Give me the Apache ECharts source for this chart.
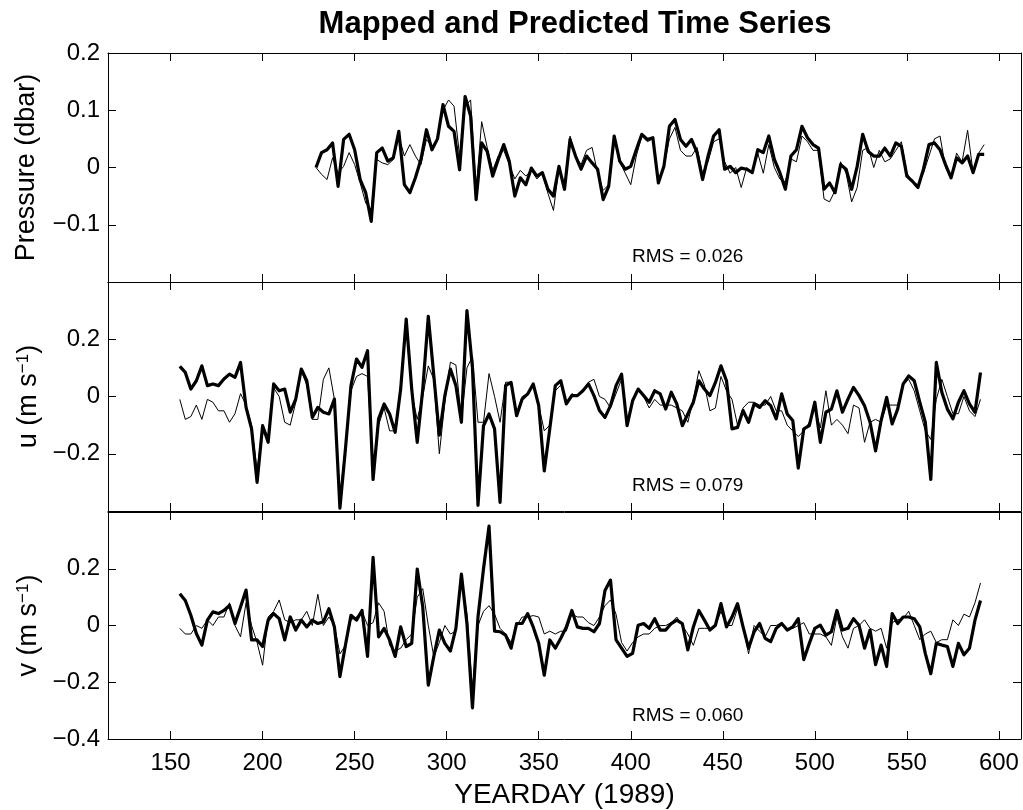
<!DOCTYPE html>
<html>
<head>
<meta charset="utf-8"/>
<title>Mapped and Predicted Time Series</title>
<script src="https://cdn.jsdelivr.net/npm/echarts@6/dist/echarts.min.js"></script>
<style>
    html, body { margin: 0; padding: 0; background: #fff; }
    #main { width: 1023px; height: 810px; }
</style>
</head>
<body>
<div id="main"></div>
<script>
    // sampling grid, every 3 days
    function dayGrid(start, end, step) {
        let d = [];
        for (let t = start; t <= end; t += step) d.push(t);
        return d;
    }
    let daysP = dayGrid(229, 592, 3);
    let daysUV = dayGrid(155, 590, 3);

    let xTicks = [150, 200, 250, 300, 350, 400, 450, 500, 550, 600];
    let rmsText = ['0.026', '0.079', '0.060'];

    // pressure (dbar): thick = mapped, thin = predicted
    let pMapped = [
        0.0, 0.026, 0.031, 0.043, -0.033, 0.049, 0.058, 0.031, -0.021, -0.044,
        -0.094, 0.026, 0.034, 0.011, 0.017, 0.063, -0.03, -0.044, -0.018, 0.014,
        0.066, 0.031, 0.05, 0.11, 0.072, 0.063, -0.004, 0.124, 0.09, -0.056,
        0.043, 0.028, -0.015, 0.014, 0.04, 0.011, -0.05, -0.018, -0.03, -0.001,
        -0.015, -0.009, -0.038, -0.05, 0.002, -0.038, 0.049, 0.02, -0.003, 0.02,
        0.008, -0.003, -0.056, -0.033, 0.055, 0.011, -0.003, 0.002, 0.031, 0.058,
        0.049, 0.052, -0.027, 0.002, 0.072, 0.084, 0.049, 0.037, 0.049, 0.026,
        -0.021, 0.02, 0.055, 0.066, -0.003, 0.002, -0.009, -0.001, -0.003, -0.009,
        0.031, 0.026, 0.055, 0.014, -0.009, -0.038, 0.02, 0.031, 0.072, 0.052,
        0.04, 0.034, -0.038, -0.027, -0.044, 0.005, -0.003, -0.038, 0.002, 0.058,
        0.028, 0.02, 0.02, 0.034, 0.02, 0.043, 0.037, -0.015, -0.024, -0.035,
        -0.003, 0.04, 0.043, 0.031, 0.005, -0.018, 0.017, 0.008, 0.02, -0.009,
        0.023, 0.023
    ];
    let pPredicted = [
        0.0, -0.012, -0.021, 0.017, -0.01, 0.002, 0.026, 0.005, -0.027, -0.062,
        -0.073, 0.014, 0.008, 0.005, 0.014, 0.055, 0.02, 0.04, 0.02, 0.005,
        0.049, 0.037, 0.049, 0.1, 0.118, 0.107, 0.02, 0.107, 0.118, -0.04,
        0.08, 0.035, -0.005, 0.02, 0.03, 0.005, -0.02, -0.005, -0.015, -0.005,
        -0.02, -0.01, -0.045, -0.075, 0.0, -0.03, 0.055, 0.02, 0.005, 0.03,
        0.035, -0.01, -0.04, -0.03, 0.05, 0.01, -0.01, -0.03, 0.02, 0.055,
        0.045, 0.05, -0.02, 0.0, 0.05, 0.07, 0.03, 0.02, 0.02, 0.035,
        -0.01, 0.01, 0.045, 0.05, 0.01, -0.01, 0.0, -0.035, 0.0, -0.01,
        0.025, -0.01, 0.04, 0.0, -0.02, -0.025, 0.015, 0.01, 0.055, 0.045,
        0.03, 0.03, -0.055, -0.06, -0.04, 0.01, -0.01, -0.06, -0.035, 0.03,
        0.035, 0.0, 0.03, 0.01, 0.015, 0.03, 0.045, -0.01, -0.025, -0.03,
        -0.01, 0.02, 0.05, 0.055, 0.0, -0.02, 0.025, 0.01, 0.065, -0.01,
        0.025, 0.04
    ];

    // u (m/s)
    let uMapped = [
        0.105, 0.084, 0.026, 0.055, 0.107, 0.038, 0.044, 0.038, 0.061, 0.078,
        0.067, 0.119, -0.038, -0.113, -0.30, -0.102, -0.16, 0.044, 0.02, 0.026,
        -0.055, -0.009, 0.096, 0.055, -0.073, -0.038, -0.055, -0.061, -0.009, -0.39,
        -0.183, 0.038, 0.131, 0.102, 0.16, -0.29, -0.078, -0.026, -0.061, -0.125,
        0.026, 0.27, 0.026, -0.16, 0.026, 0.28, 0.073, -0.135, 0.003, 0.096,
        0.038, -0.09, 0.30, 0.10, -0.38, -0.102, -0.061, -0.113, -0.37, 0.038,
        0.049, -0.067, -0.009, 0.009, 0.044, -0.032, -0.26, -0.113, 0.038, 0.055,
        -0.026, 0.003, 0.003, 0.02, 0.044, 0.003, -0.049, -0.073, -0.032, 0.038,
        0.078, -0.102, -0.015, 0.026, 0.003, -0.02, 0.02, 0.009, -0.044, 0.015,
        -0.026, -0.102, -0.061, -0.02, 0.055, 0.026, 0.003, 0.049, 0.107, 0.055,
        -0.113, -0.108, -0.049, -0.09, -0.026, -0.038, -0.015, -0.032, -0.078, 0.009,
        -0.061, -0.084, -0.25, -0.113, -0.102, -0.02, -0.16, -0.055, -0.044, 0.02,
        -0.055, -0.009, 0.032, 0.003, -0.032, -0.09, -0.19, -0.084, -0.003, -0.096,
        -0.044, 0.044, 0.072, 0.055, -0.02, -0.09, -0.29, 0.119, 0.015, -0.044,
        -0.078, -0.02, 0.02, -0.026, -0.055, 0.084
    ];
    let uPredicted = [
        -0.01, -0.08, -0.07, -0.03, -0.08, -0.01, -0.02, -0.05, -0.05, -0.09,
        -0.06, 0.01, -0.03, -0.1, -0.26, -0.1, -0.14, 0.03, 0.0, -0.09,
        -0.1, -0.02, 0.09, 0.04, -0.08, -0.08, 0.06, 0.1, -0.01, -0.35,
        -0.17, 0.02, 0.07, 0.08, 0.07, -0.26, -0.1, -0.04, -0.12, -0.12,
        0.02, 0.25, 0.01, -0.08, 0.0, 0.107, 0.06, -0.2, -0.02, 0.12,
        0.11, -0.08, 0.1, 0.14, -0.09, -0.09, 0.08, 0.0, -0.09, 0.05,
        0.05, -0.06, 0.0, 0.01, 0.04, -0.03, -0.12, -0.1, 0.02, 0.04,
        -0.02, 0.01, 0.0, 0.02, 0.05, 0.06, 0.0, -0.01, -0.04, 0.01,
        0.06, -0.09, -0.01, 0.02, 0.0, -0.04, -0.01, -0.03, -0.03, -0.03,
        -0.04, -0.05, -0.09, -0.01, 0.09, 0.04, -0.05, -0.04, 0.07, 0.02,
        -0.01, -0.1, -0.04, -0.02, -0.02, -0.03, -0.03, 0.0, -0.05, -0.05,
        -0.1, -0.12, -0.14, -0.12, -0.09, -0.04, -0.11, 0.02, -0.1, -0.08,
        -0.1, -0.13, -0.03, -0.04, -0.16, -0.09, -0.08, -0.09, -0.03, -0.03,
        -0.03, 0.04, 0.06, 0.02, -0.05, -0.12, -0.15, -0.01, 0.06, 0.0,
        -0.06, -0.06, 0.0, -0.05, -0.07, -0.01
    ];

    // v (m/s)
    let vMapped = [
        0.112, 0.088, 0.036, -0.028, -0.069, 0.019, 0.048, 0.042, 0.053, 0.071,
        0.007, 0.065, 0.125, -0.051, -0.051, -0.074, 0.019, 0.042, 0.024, -0.051,
        0.03, -0.016, 0.019, -0.005, 0.019, 0.007, 0.013, 0.059, -0.005, -0.18,
        -0.069, 0.036, 0.019, 0.053, -0.109, 0.24, -0.04, -0.01, -0.051, -0.109,
        -0.005, -0.074, -0.063, 0.199, 0.065, -0.21, -0.109, -0.016, -0.063, -0.09,
        -0.01, 0.181, 0.007, -0.29, 0.03, 0.2, 0.35, -0.02, -0.022, -0.034,
        -0.08, 0.007, 0.007, 0.042, -0.005, -0.063, -0.175, -0.051, -0.08, -0.045,
        -0.005, 0.053, -0.005, -0.01, -0.01, -0.022, 0.007, 0.123, 0.16, -0.051,
        -0.08, -0.109, -0.098, 0.001, 0.007, -0.01, 0.024, -0.016, -0.016, 0.007,
        0.019, 0.007, -0.086, -0.005, 0.053, 0.019, -0.016, 0.001, 0.077, -0.005,
        0.03, 0.077, -0.005, -0.08, -0.022, 0.007, -0.045, -0.057, -0.01, 0.007,
        -0.016, -0.005, 0.024, -0.12, -0.063, -0.01, 0.001, -0.034, -0.022, 0.053,
        -0.016, -0.01, 0.024, 0.001, -0.08, -0.016, -0.138, -0.069, -0.144, 0.042,
        0.007, 0.03, 0.03, 0.024, -0.005, -0.098, -0.17, -0.063, -0.069, -0.074,
        -0.144, -0.063, -0.103, -0.08, 0.019, 0.088
    ];
    let vPredicted = [
        -0.01, -0.03, -0.03, 0.0, -0.01, 0.02, 0.0, 0.03, 0.03, 0.08,
        0.0, -0.04, 0.08, 0.0, -0.06, -0.14, 0.03, 0.05, 0.09, 0.02,
        0.01, 0.02, 0.02, 0.05, 0.0, 0.11, 0.0, 0.03, 0.0, -0.1,
        -0.07, 0.02, 0.03, 0.05, 0.0, 0.01, 0.08, 0.05, -0.07, -0.09,
        -0.08, -0.05, -0.03, 0.1, 0.13, 0.0, -0.11, -0.06, 0.0, -0.03,
        -0.02, 0.17, 0.04, -0.23, 0.0, 0.05, 0.07, 0.04, -0.01, -0.03,
        -0.06, 0.0, 0.03, 0.03, 0.035, 0.03, -0.03, -0.02, -0.03, -0.02,
        -0.02, 0.04, 0.03, 0.03, 0.01, 0.0, 0.03, 0.07, 0.09, 0.04,
        -0.06, -0.09, -0.06, -0.04, -0.03, -0.03, -0.01, 0.0, 0.0, 0.01,
        0.03, 0.0, -0.03, -0.07, -0.01, -0.01, -0.01, 0.0, 0.05, 0.0,
        0.0, 0.06, 0.0, -0.1, 0.0, -0.02, -0.04, 0.0, 0.0, 0.01,
        -0.01, -0.01, 0.0, 0.01, -0.03, -0.03, -0.03, -0.04, -0.07, 0.03,
        -0.04, -0.08, -0.01, 0.0, 0.02, -0.01, -0.02, -0.01, -0.08, 0.01,
        0.02, 0.025, 0.05, 0.0, -0.05, -0.03, -0.02, -0.06, -0.05, -0.05,
        0.02, 0.0, 0.04, 0.03, 0.08, 0.15
    ];

    function pairs(days, vals) {
        return days.map(function (d, i) { return [d, vals[i]]; });
    }

    let font = 'Liberation Sans, Arial, Helvetica, sans-serif';
    let panels = [
        {days: daysP, mapped: pMapped, predicted: pPredicted, min: -0.2, max: 0.2, step: 0.1,
            name: 'Pressure (dbar)', showMin: false, showMax: true, gap: 68},
        {days: daysUV, mapped: uMapped, predicted: uPredicted, min: -0.4, max: 0.4, step: 0.2,
            name: 'u (m s{sup|\u22121})', showMin: false, showMax: false, gap: 60},
        {days: daysUV, mapped: vMapped, predicted: vPredicted, min: -0.4, max: 0.4, step: 0.2,
            name: 'v (m s{sup|\u22121})', showMin: true, showMax: false, gap: 60}
    ];

    let gridTop = [53, 282, 512];
    let gridH = 229;

    let grid = [], xAxis = [], yAxis = [], series = [], graphic = [];
    let tickStyle = {show: true, inside: true, length: 8, lineStyle: {color: '#000', width: 1}};
    let lineSt = {show: true, onZero: false, lineStyle: {color: '#000', width: 1}};

    panels.forEach(function (p, i) {
        grid.push({left: 108, right: 2, top: gridTop[i], height: gridH});
        let last = i === panels.length - 1;
        xAxis.push({
            type: 'value', gridIndex: i, position: 'bottom', min: 116, max: 612,
            axisLine: lineSt, splitLine: {show: false},
            axisTick: Object.assign({customValues: xTicks}, tickStyle),
            axisLabel: {show: last, customValues: xTicks, color: '#000', fontSize: 24, fontFamily: font, margin: 12},
            name: last ? 'YEARDAY (1989)' : '', nameLocation: 'middle', nameGap: 42,
            nameTextStyle: {color: '#000', fontSize: 28, fontFamily: font}
        });
        xAxis.push({
            type: 'value', gridIndex: i, position: 'top', min: 116, max: 612,
            axisLine: lineSt, splitLine: {show: false},
            axisTick: Object.assign({customValues: xTicks}, tickStyle),
            axisLabel: {show: false}
        });
        yAxis.push({
            type: 'value', gridIndex: i, position: 'left', min: p.min, max: p.max, interval: p.step,
            axisLine: lineSt, splitLine: {show: false}, axisTick: tickStyle,
            axisLabel: {
                color: '#000', fontSize: 24, fontFamily: font, margin: 8,
                showMinLabel: p.showMin, showMaxLabel: p.showMax,
                formatter: function (v) {
                    return String(Math.round(v * 10) / 10).replace('-', '\u2212');
                }
            },
            name: p.name, nameLocation: 'middle', nameGap: p.gap,
            nameTextStyle: {
                color: '#000', fontSize: 27, fontFamily: font,
                rich: {sup: {fontSize: 17, fontFamily: font, color: '#000', verticalAlign: 'top'}}
            }
        });
        yAxis.push({
            type: 'value', gridIndex: i, position: 'right', min: p.min, max: p.max, interval: p.step,
            axisLine: lineSt, splitLine: {show: false}, axisTick: tickStyle,
            axisLabel: {show: false}
        });
        series.push({
            type: 'line', xAxisIndex: 2 * i, yAxisIndex: 2 * i, data: pairs(p.days, p.predicted),
            showSymbol: false, lineStyle: {color: '#000', width: 1}, z: 2
        });
        series.push({
            type: 'line', xAxisIndex: 2 * i, yAxisIndex: 2 * i, data: pairs(p.days, p.mapped),
            showSymbol: false, lineStyle: {color: '#000', width: 3.2, join: 'round'}, z: 3
        });
        graphic.push({
            type: 'text', left: 632, top: gridTop[i] + gridH - 35,
            style: {text: 'RMS = ' + rmsText[i], fill: '#000', fontSize: 19, fontFamily: font}
        });
    });

    let myChart = echarts.init(document.getElementById('main'));
    let option = {
        animation: false,
        backgroundColor: '#fff',
        title: {
            text: 'Mapped and Predicted Time Series',
            left: 570, top: 4, textAlign: 'center',
            textStyle: {color: '#000', fontSize: 31, fontWeight: 'bold', fontFamily: font}
        },
        grid: grid,
        xAxis: xAxis,
        yAxis: yAxis,
        series: series,
        graphic: graphic
    };
    myChart.setOption(option);
</script>
</body>
</html>
